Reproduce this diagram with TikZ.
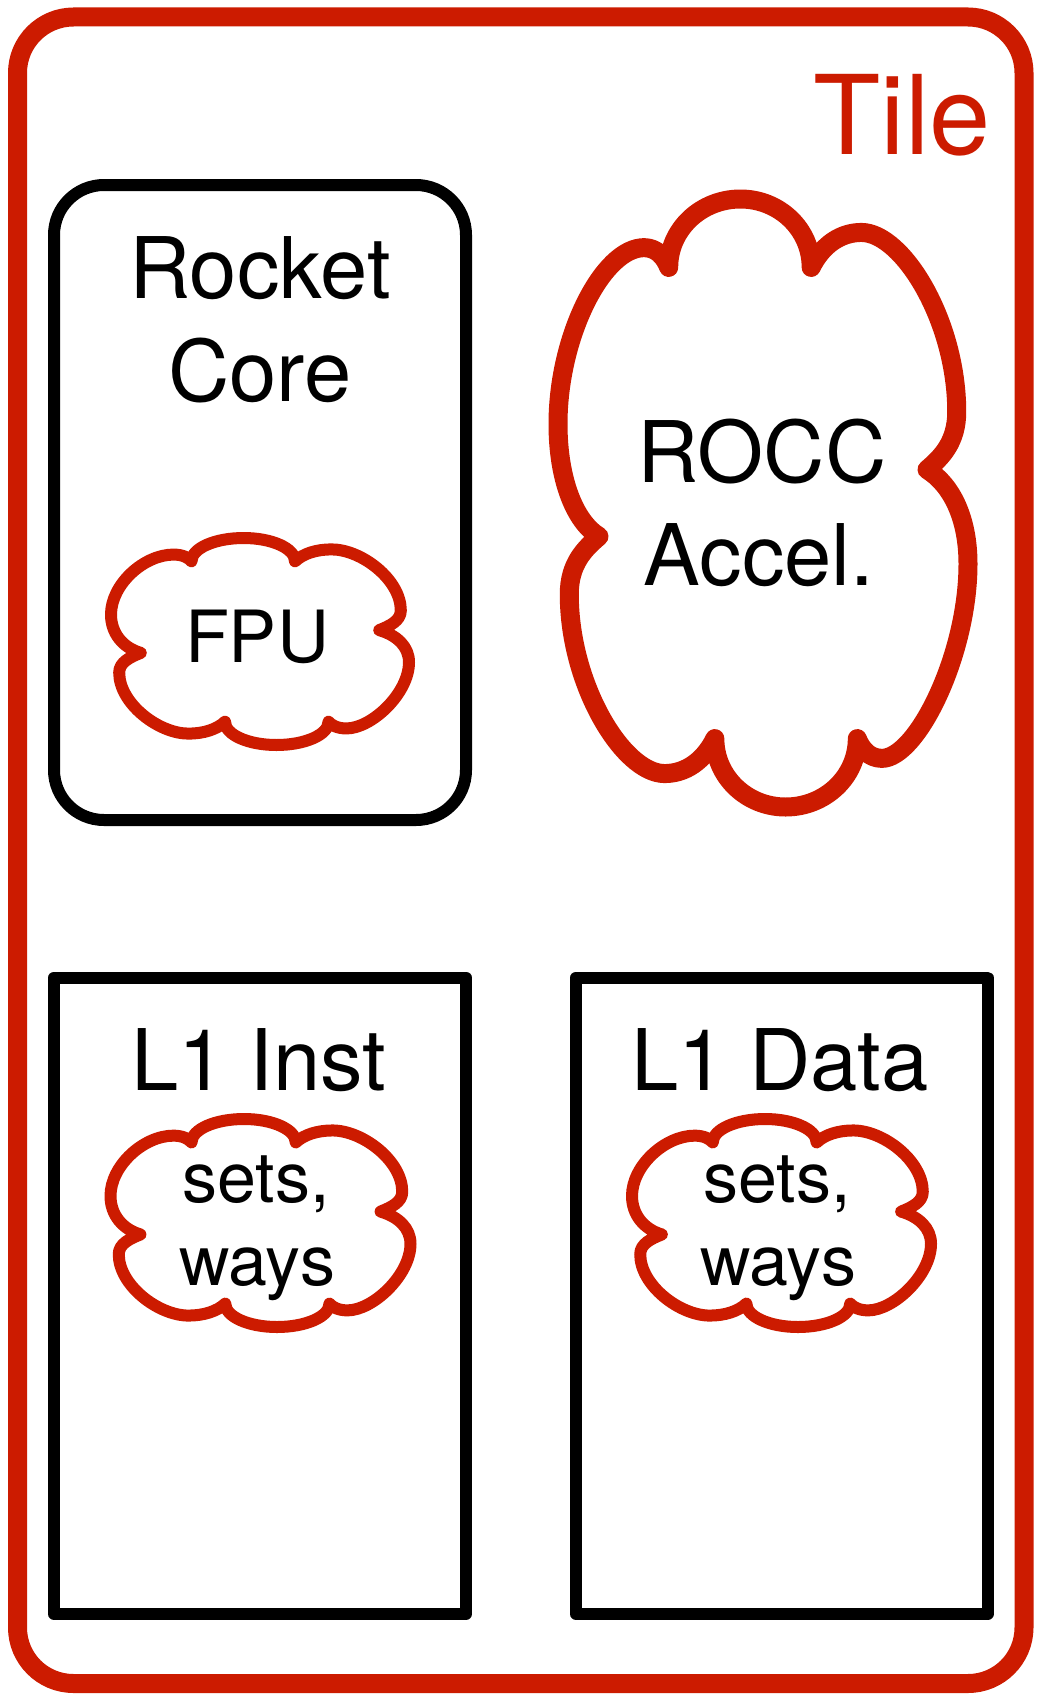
\documentclass[tikz,border=0pt]{standalone}
\usepackage{fontspec}
\setmainfont{TeX Gyre Heros}
\definecolor{tilered}{RGB}{204,27,0}
\newcommand{\cloudshape}{%
(-0.46,0.775) .. controls (-0.46,0.90) and (-0.303,1.0) .. (-0.11,1.0)
.. controls (0.08,1.0) and (0.235,0.90) .. (0.235,0.775)
.. controls (0.29,0.85) and (0.38,0.89) .. (0.48,0.89)
.. controls (0.68,0.89) and (0.945,0.60) .. (0.945,0.30)
.. controls (0.945,0.2) and (0.87,0.15) .. (0.80,0.11)
.. controls (0.92,0.06) and (1.0,-0.05) .. (1.0,-0.2)
.. controls (1.0,-0.5) and (0.75,-0.84) .. (0.58,-0.84)
.. controls (0.52,-0.84) and (0.48,-0.81) .. (0.46,-0.775)
.. controls (0.46,-0.90) and (0.303,-1.0) .. (0.11,-1.0)
.. controls (-0.08,-1.0) and (-0.235,-0.90) .. (-0.235,-0.775)
.. controls (-0.29,-0.85) and (-0.38,-0.89) .. (-0.48,-0.89)
.. controls (-0.68,-0.89) and (-0.945,-0.60) .. (-0.945,-0.30)
.. controls (-0.945,-0.2) and (-0.87,-0.15) .. (-0.80,-0.11)
.. controls (-0.92,-0.06) and (-1.0,0.08) .. (-1.0,0.26)
.. controls (-1.0,0.55) and (-0.78,0.84) .. (-0.58,0.84)
.. controls (-0.52,0.84) and (-0.48,0.81) .. (-0.46,0.775) -- cycle}
\tikzset{
  tileframe/.style={draw=tilered, line width=19pt, rounded corners=56pt},
  corebox/.style={draw=black, line width=12pt, rounded corners=50pt},
  cachebox/.style={draw=black, line width=12pt, line join=round},
  bigcloud/.style={draw=tilered, line width=19pt, line join=round, fill=white},
  smallcloud/.style={draw=tilered, line width=12pt, line join=round, fill=white},
  bigtext/.style={anchor=base, inner sep=0pt, font=\fontsize{85}{103}\selectfont},
  smalltext/.style={anchor=base, inner sep=0pt, font=\fontsize{70}{83}\selectfont},
  tiletext/.style={anchor=base east, inner sep=0pt, text=tilered, font=\fontsize{110}{130}\selectfont}
}
\begin{document}
\begin{tikzpicture}[x=1pt, y=-1pt]
\useasboundingbox[fill=white] (0,0) rectangle (1041,1702);
% Tile frame
\draw[tileframe] (17.5,17) rectangle (1024,1683.5);
\node[tiletext] (tilelbl) at (991,154) {Tile};
% Rocket core
\draw[corebox] (54,185) rectangle (466,820);
\node[bigtext] (rocket1) at (260,298) {Rocket};
\node[bigtext] (rocket2) at (260,401) {Core};
% FPU cloud
\begin{scope}[shift={(260,641.5)}, xscale=149, yscale=-103.5]
\draw[smallcloud] \cloudshape;
\end{scope}
\node[smalltext, font=\fontsize{72}{86}\selectfont] (fpu) at (257,662) {FPU};
% ROCC cloud
\begin{scope}[shift={(763,503)}, xscale=205, yscale=-304]
\draw[bigcloud] \cloudshape;
\end{scope}
\node[bigtext] (rocc1) at (762,482) {ROCC};
\node[bigtext] (rocc2) at (759,585) {Accel.};
% L1 Inst
\draw[cachebox] (54,977.5) rectangle (466,1614);
\node[bigtext] (inst) at (259,1090) {L1 Inst};
\begin{scope}[shift={(260.5,1223)}, xscale=150, yscale=-104]
\draw[smallcloud] \cloudshape;
\end{scope}
\node[smalltext] (isets) at (256,1202) {sets,};
\node[smalltext] (iways) at (257,1285) {ways};
% L1 Data
\draw[cachebox] (576,977.5) rectangle (987.5,1614);
\node[bigtext] (data) at (780,1090) {L1 Data};
\begin{scope}[shift={(781.5,1223)}, xscale=149.5, yscale=-104]
\draw[smallcloud] \cloudshape;
\end{scope}
\node[smalltext] (dsets) at (777,1202) {sets,};
\node[smalltext] (dways) at (778,1285) {ways};
\end{tikzpicture}
\end{document}
